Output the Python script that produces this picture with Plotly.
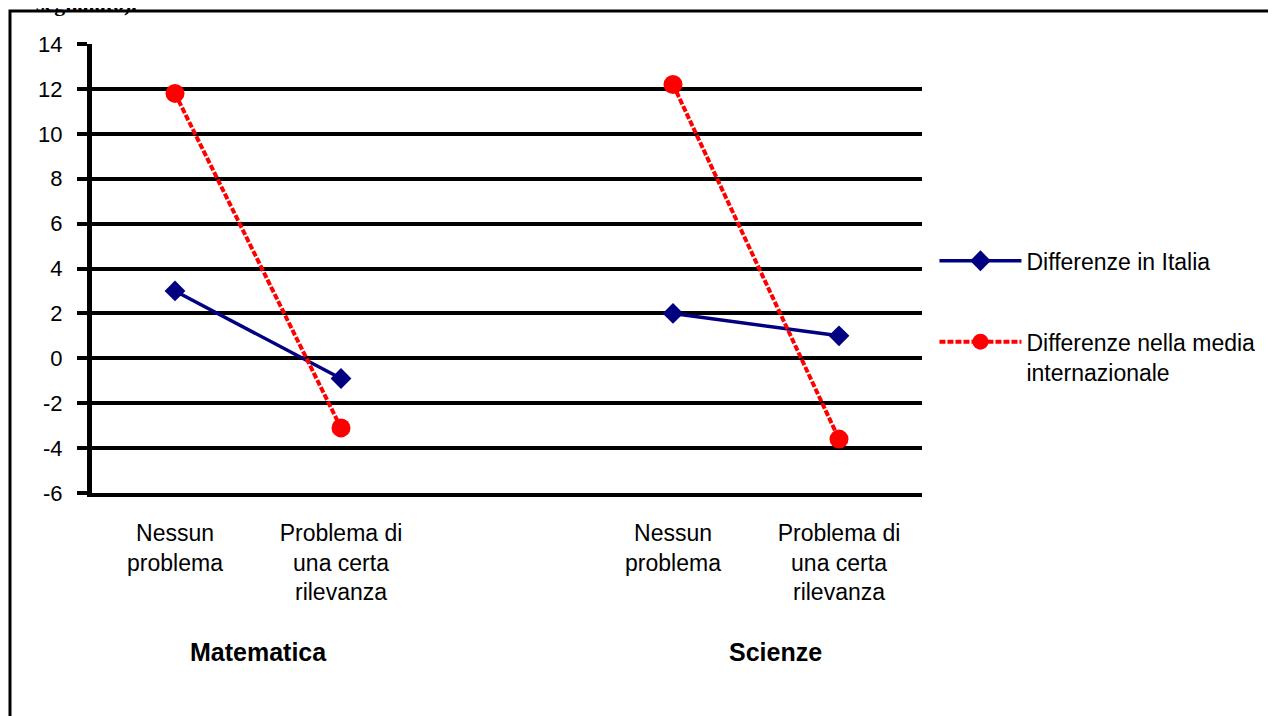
import plotly.graph_objects as go

# categories (index 2 is the empty gap between the two subjects)
categories = ["Nessun<br>problema", "Problema di<br>una certa<br>rilevanza", "",
              "Nessun<br>problema", "Problema di<br>una certa<br>rilevanza"]
cat_pos = [0, 1, 2, 3, 4]
subjects = ["Matematica", "Scienze"]

italia = [3.0, -0.9, None, 2.0, 1.0]
internazionale = [11.8, -3.1, None, 12.2, -3.6]

series_names = ["Differenze in Italia", "Differenze nella media<br>internazionale"]

y_ticks = [-6, -4, -2, 0, 2, 4, 6, 8, 10, 12, 14]
y_labels = [str(v) for v in y_ticks]

FONT = "Liberation Sans, Arial, sans-serif"

fig = go.Figure()
fig.add_trace(go.Scatter(
    x=cat_pos, y=italia, name=series_names[0], mode="lines+markers",
    line=dict(color="#000080", width=3.5),
    marker=dict(symbol="diamond", size=16, color="#000080"),
    legendgroup="a"
))
fig.add_trace(go.Scatter(
    x=cat_pos, y=internazionale, name=series_names[1], mode="lines+markers",
    line=dict(color="#FF0000", width=4, dash="6px,2px"),
    marker=dict(symbol="circle", size=19, color="#FF0000"),
    legendgroup="b"
))

fig.update_xaxes(
    range=[-0.5, 4.5], tickmode="array", tickvals=[0, 1, 3, 4],
    ticktext=[categories[i] for i in [0, 1, 3, 4]],
    showgrid=False, zeroline=False, showline=True, linecolor="black", linewidth=4,
    ticks="", ticklabelstandoff=16, tickfont=dict(family=FONT, size=23, color="black")
)
fig.update_yaxes(
    range=[-6, 14], tickmode="array", tickvals=y_ticks, ticktext=y_labels,
    showgrid=True, gridcolor="black", gridwidth=3.5,
    zeroline=False, showline=True, linecolor="black", linewidth=5,
    ticks="outside", ticklen=10, tickwidth=3.5, tickcolor="black",
    ticklabelstandoff=10, tickfont=dict(family=FONT, size=22, color="black")
)

# subject labels under the categories
for text, xp in zip(subjects, [0.2012, 0.824]):
    fig.add_annotation(
        text="<b>%s</b>" % text, x=xp, y=-0.354, xref="paper", yref="paper",
        xanchor="center", yanchor="middle",
        showarrow=False, font=dict(family=FONT, size=25, color="black")
    )

# clipped caption above the frame
fig.add_annotation(
    text="<b>segnalato).</b>", x=-0.07, y=1.058, xref="paper", yref="paper",
    xanchor="left", yanchor="bottom", showarrow=False,
    font=dict(family="Liberation Serif, Times New Roman, serif", size=22, color="black")
)

# outer frame
fig.add_shape(
    type="rect", xref="paper", yref="paper", x0=-0.0988, x1=1.45, y0=-0.6, y1=1.0735,
    line=dict(color="black", width=3), fillcolor="rgba(0,0,0,0)", layer="below"
)

fig.update_layout(
    width=1276, height=716,
    margin=dict(l=84, r=362, t=36, b=231),
    paper_bgcolor="white", plot_bgcolor="white",
    font=dict(family=FONT, size=22, color="black"),
    legend=dict(
        x=1.015, xanchor="left", y=0.565, yanchor="top",
        font=dict(family=FONT, size=23, color="black"),
        itemwidth=82, valign="top", traceorder="grouped", tracegroupgap=48,
        bgcolor="rgba(0,0,0,0)"
    ),
    showlegend=True
)

fig.write_html("out.html")
